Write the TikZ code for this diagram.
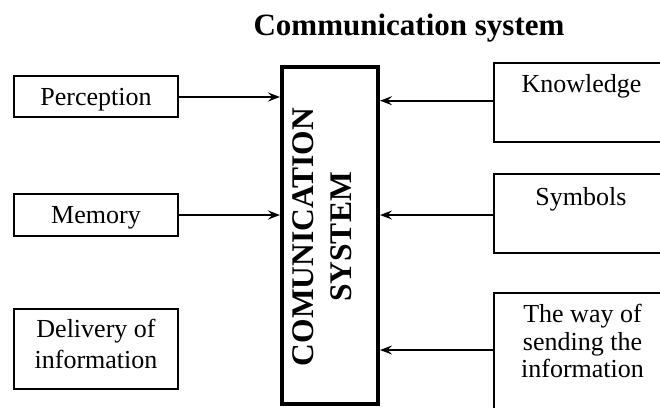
\documentclass[tikz,border=0pt]{standalone}
\usepackage{fontspec}
\setmainfont{Liberation Serif}
\usetikzlibrary{arrows.meta,calc}
\begin{document}
\begin{tikzpicture}[x=1pt,y=-1pt,
  box/.style={draw, line width=2.1pt, inner sep=0pt, font=\fontsize{26}{30}\selectfont},
  lbox/.style={box, minimum width=164pt, text height=17pt, text depth=0pt},
  rbox/.style={draw, line width=2.1pt, inner sep=0pt, minimum width=176pt},
  txt/.style={inner sep=0pt, font=\fontsize{26}{30}\selectfont, align=center},
  arr/.style={line width=2.2pt, -{Stealth[length=12pt,width=9pt,inset=4.5pt]}},
]
\useasboundingbox (0,0) rectangle (660,407);
\clip (0,0) rectangle (660,407);

\node[inner sep=0pt, anchor=base, font=\bfseries\fontsize{31}{36}\selectfont] (title) at (409,35) {Communication system};

% left boxes
\node[lbox, minimum height=41pt] (per) at (96,96.5) {Perception};
\node[lbox, minimum height=42pt] (mem) at (96,215) {Memory};
\node[box, minimum width=164pt, minimum height=80pt] (del) at (96,349) {};
\node[txt, font=\fontsize{26}{30.6}\selectfont] (delt) at (96,344) {Delivery of\\information};

% central box
\node[draw, line width=4pt, minimum width=96pt, minimum height=337pt, inner sep=0pt] (cs) at (330,235.5) {};
\node[inner sep=0pt, rotate=90, align=center, font=\bfseries\fontsize{31.5}{38}\selectfont] (cst) at (321.8,237) {COMUNICATION\\SYSTEM};

% right boxes
\node[rbox, minimum height=79pt] (kn) at (582,102.5) {};
\node[txt, anchor=base] (knt) at (581.5,92) {Knowledge};
\node[rbox, minimum height=79pt] (sy) at (582,213.5) {};
\node[txt, anchor=base] (syt) at (581,205) {Symbols};
\node[rbox, minimum height=118pt] (wy) at (582,352) {};
\node[txt, font=\fontsize{26}{27.7}\selectfont] (wyt) at (582.5,341.2) {The way of\\sending the\\information};

% arrow heights
\coordinate (ya) at (0,97);
\coordinate (yb) at (0,215);
\coordinate (yc) at (0,100.7);
\coordinate (yd) at (0,215);
\coordinate (ye) at (0,350);

\draw[arr] (per.east |- ya) -- (cs.west |- ya);
\draw[arr] (mem.east |- yb) -- (cs.west |- yb);
\draw[arr] (kn.west |- yc) -- (cs.east |- yc);
\draw[arr] (sy.west |- yd) -- (cs.east |- yd);
\draw[arr] (wy.west |- ye) -- (cs.east |- ye);
\end{tikzpicture}
\end{document}
